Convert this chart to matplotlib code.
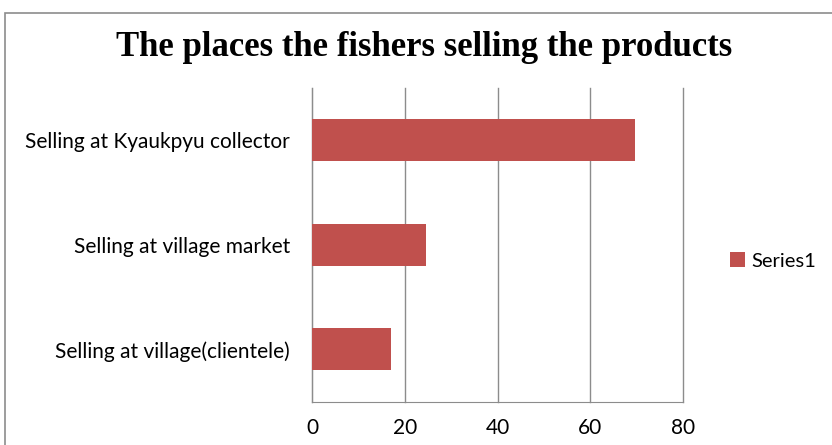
import matplotlib
matplotlib.use("Agg")
import matplotlib.pyplot as plt
from matplotlib.patches import Rectangle

categories = ["Selling at village(clientele)", "Selling at village market", "Selling at Kyaukpyu collector"]
values = [16.9, 24.6, 69.7]
xticks = [0, 20, 40, 60, 80]
series_name = "Series1"
title = "The places the fishers selling the products"

W, H = 832, 445
fig = plt.figure(figsize=(W/100, H/100), dpi=100)
fig.patch.set_facecolor("white")

# outer chart border
fig.add_artist(Rectangle((5/W, -0.1), 1.2, 1 - 13/H + 0.1, transform=fig.transFigure,
                         fill=False, edgecolor="#8c8c8c", linewidth=1.2))

ax = fig.add_axes([312.3/W, 1 - 401.7/H, (682.7-312.3)/W, (401.7-87.5)/H])
ax.barh(range(len(categories)), values, height=0.4, color="#C0504D", label=series_name, zorder=3)
ax.set_xlim(0, 80)
ax.set_ylim(-0.5, 2.5)
ax.set_xticks(xticks)
ax.set_xticklabels([str(t) for t in xticks], fontsize=15, family="Lato")
ax.set_yticks(range(len(categories)))
ax.set_yticklabels(categories, fontsize=15, family="Lato")
ax.tick_params(axis="y", length=0, pad=16)
ax.tick_params(axis="x", length=0, pad=12)
ax.grid(axis="x", color="#8c8c8c", linewidth=1, zorder=0)
for gl in ax.get_xgridlines():
    gl.set_clip_on(False)
for s in ["top", "right"]:
    ax.spines[s].set_visible(False)
ax.spines["left"].set_color("#8c8c8c")
ax.spines["bottom"].set_color("#8c8c8c")

fig.text(424/W, 1 - 48/H, title, ha="center", va="center", fontsize=25,
         family="Liberation Serif", fontweight="bold")

leg = fig.legend(loc="center left", bbox_to_anchor=(712/W, 1 - 261/H), frameon=False,
                 prop={"family": "Lato", "size": 14.5}, handlelength=0.75, handleheight=0.75,
                 handletextpad=0.3)

fig.savefig("out.png", dpi=100, facecolor="white")
